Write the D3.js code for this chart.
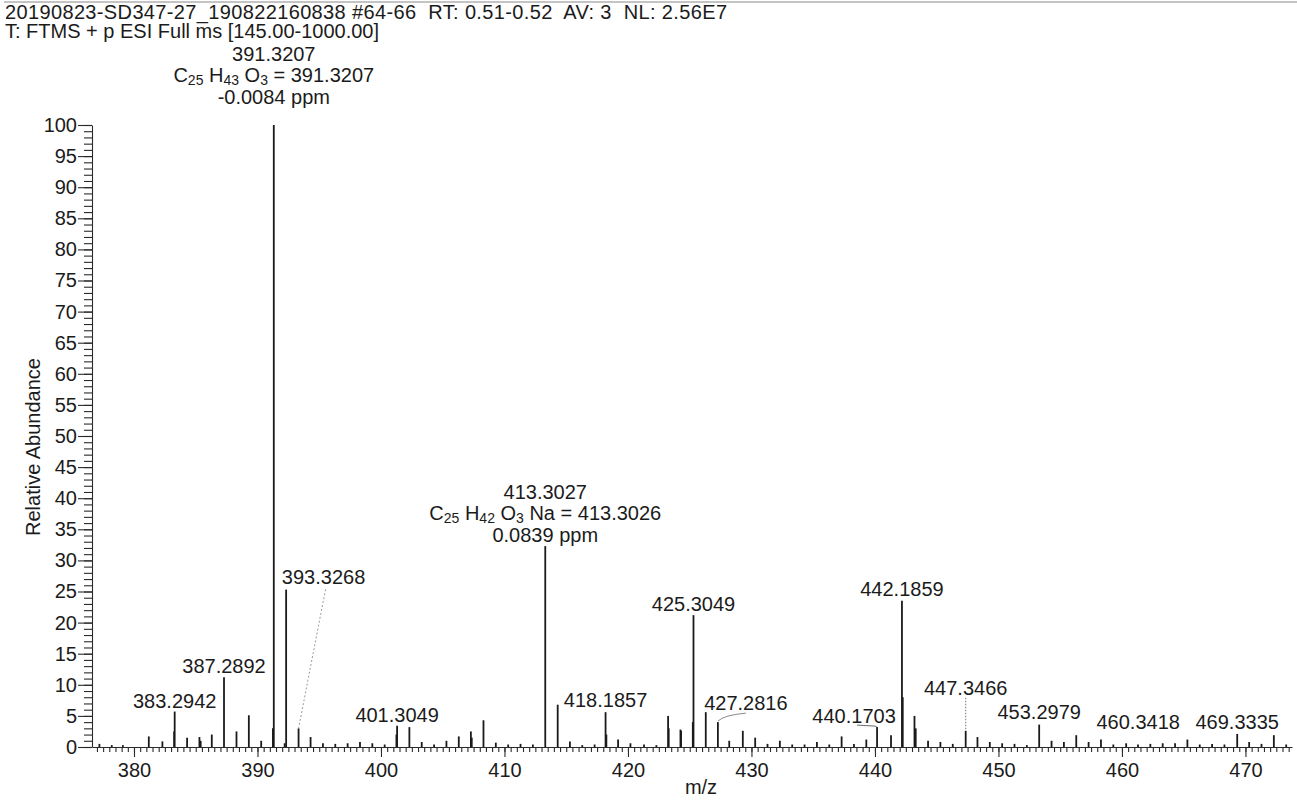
<!DOCTYPE html>
<html>
<head>
<meta charset="utf-8">
<script src="https://cdn.jsdelivr.net/npm/d3@7"></script>
<style>
  body { margin: 0; background: #fff; }
  svg text { font-family: "Liberation Sans", Arial, sans-serif; fill: #1b1b1b; }
</style>
</head>
<body>
<div id="spectrum"></div>
<script>
// header text of the scan
var headerLines = [
  '20190823-SD347-27_190822160838 #64-66  RT: 0.51-0.52  AV: 3  NL: 2.56E7',
  'T: FTMS + p ESI Full ms [145.00-1000.00]'
];

// centroid peaks (m/z, relative abundance %)
var peakMz = [377.2, 378.2, 379.1, 381.2, 382.3, 383.25, 383.2942, 384.3, 385.3, 385.4, 386.3, 387.2892,
  388.3, 389.3, 390.3, 391.25, 391.3207, 392.2, 392.32, 393.3268, 394.3, 395.3, 396.3, 397.3, 398.3, 399.3,
  400.3, 401.25, 401.3049, 402.3, 403.3, 404.3, 405.3, 406.3, 407.28, 407.35, 408.3, 409.3, 410.3, 411.3,
  412.3, 413.3027, 414.31, 415.3, 416.3, 417.3, 418.1857, 418.25, 419.2, 420.2, 421.3, 422.3, 423.25, 423.3,
  424.25, 424.3, 425.25, 425.3049, 426.3, 427.2816, 428.2, 429.3, 430.3, 431.3, 432.3, 433.3, 434.3, 435.3,
  436.3, 437.3, 438.3, 439.3, 440.1703, 441.3, 442.1859, 442.25, 443.2, 443.3, 444.3, 445.3, 446.3, 447.3466,
  448.3, 449.3, 450.3, 451.3, 452.3, 453.2979, 454.3, 455.3, 456.3, 457.3, 458.3, 459.3, 460.3418, 461.3,
  462.3, 463.3, 464.3, 465.3, 466.3, 467.3, 468.3, 469.3335, 470.3, 471.3, 472.3, 473.3];
var peakAbundance = [0.5, 0.3, 0.3, 1.7, 0.9, 2.5, 5.7, 1.5, 1.6, 1.0, 2.0, 11.2,
  2.5, 5.1, 1.0, 3.0, 100, 0.6, 25.3, 3.0, 1.6, 0.6, 0.5, 0.6, 0.8, 0.6,
  0.4, 2.0, 3.4, 3.2, 0.8, 0.4, 1.0, 1.7, 2.5, 1.5, 4.3, 0.7, 0.4, 0.5,
  0.4, 32.3, 6.8, 0.9, 0.3, 0.4, 5.6, 2.0, 1.2, 0.6, 0.4, 0.3, 5.0, 3.0,
  2.8, 2.6, 4.0, 21.2, 5.6, 4.0, 1.0, 2.6, 1.5, 0.5, 1.0, 0.4, 0.4, 0.8,
  0.4, 1.7, 0.5, 1.2, 3.2, 1.9, 23.5, 8.0, 5.0, 3.0, 1.0, 0.8, 0.5, 2.6,
  1.6, 0.8, 0.6, 0.5, 0.3, 3.6, 1.0, 0.8, 1.9, 0.8, 1.2, 0.4, 0.6, 0.4,
  0.5, 0.6, 0.6, 1.2, 0.4, 0.5, 0.4, 2.1, 0.8, 0.5, 1.9, 0.4];

var xTicks = [380, 390, 400, 410, 420, 430, 440, 450, 460, 470];
var yTicks = [0, 5, 10, 15, 20, 25, 30, 35, 40, 45, 50, 55, 60, 65, 70, 75, 80, 85, 90, 95, 100];

// simple peak labels
var labelText = ['383.2942', '387.2892', '393.3268', '401.3049', '418.1857', '425.3049', '427.2816',
  '440.1703', '442.1859', '447.3466', '453.2979', '460.3418', '469.3335'];

// peaks annotated with an elemental composition
var formulaMz = [391.3207, 413.3027];
var formulaParts = [
  [['C', 0], ['25', 1], [' H', 0], ['43', 1], [' O', 0], ['3', 1], [' = 391.3207', 0]],
  [['C', 0], ['25', 1], [' H', 0], ['42', 1], [' O', 0], ['3', 1], [' Na = 413.3026', 0]]
];
var formulaPpm = ['-0.0084 ppm', '0.0839 ppm'];

var width = 1297, height = 800;
var plotLeft = 92, plotRight = 1292, plotTop = 125, plotBottom = 747;

var svg = d3.select('#spectrum').append('svg')
  .attr('width', width)
  .attr('height', height);

var x = d3.scaleLinear().domain([376.6, 473.77]).range([plotLeft, plotRight]);
var y = d3.scaleLinear().domain([0, 100]).range([plotBottom, plotTop]);

// top rule + header
svg.append('line')
  .attr('x1', 4).attr('x2', width).attr('y1', 2).attr('y2', 2)
  .attr('stroke', '#8a8a8a').attr('stroke-width', 1.2);

svg.append('text')
  .attr('x', 5).attr('y', 19)
  .attr('font-size', 20)
  .attr('textLength', 722)
  .attr('lengthAdjust', 'spacing')
  .style('white-space', 'pre')
  .text(headerLines[0]);
svg.append('text')
  .attr('x', 5).attr('y', 38)
  .attr('font-size', 20)
  .text(headerLines[1]);

/* axes */
var yMinor = d3.axisLeft(y).tickValues(d3.range(0, 101, 1)).tickSize(8).tickFormat('');
var yMajor = d3.axisLeft(y).tickValues(yTicks).tickSize(14).tickSizeOuter(0).tickPadding(1);
svg.append('g').attr('transform', `translate(${plotLeft},0)`).call(yMinor)
  .call(g => g.select('.domain').remove());
var gy = svg.append('g').attr('transform', `translate(${plotLeft},0)`).call(yMajor);
gy.selectAll('text').attr('font-size', 20).attr('font-family', '"Liberation Sans", Arial, sans-serif');

var xMinor = d3.axisBottom(x).tickValues(d3.range(377, 473.8, 0.5)).tickSize(5).tickFormat('');
var xMajor = d3.axisBottom(x).tickValues(xTicks).tickSize(10).tickSizeOuter(0).tickPadding(6)
  .tickFormat(d3.format('d'));
svg.append('g').attr('transform', `translate(0,${plotBottom})`).call(xMinor)
  .call(g => g.select('.domain').remove());
var gx = svg.append('g').attr('transform', `translate(0,${plotBottom})`).call(xMajor);
gx.selectAll('text').attr('font-size', 20).attr('font-family', '"Liberation Sans", Arial, sans-serif');

svg.selectAll('.tick line, .domain').attr('stroke', '#2a2a2a').attr('stroke-width', 1.1);

svg.append('text')
  .attr('x', 701).attr('y', 794)
  .attr('text-anchor', 'middle')
  .attr('font-size', 20)
  .text('m/z');

svg.append('text')
  .attr('transform', 'translate(33,447) rotate(-90)')
  .attr('text-anchor', 'middle')
  .attr('dominant-baseline', 'central')
  .attr('font-size', 20)
  .text('Relative Abundance');

/* peaks */
var peaks = peakMz.map((m, i) => ({ mz: m, ab: peakAbundance[i] }));
svg.append('g').selectAll('line')
  .data(peaks).enter()
  .append('line')
  .attr('x1', d => x(d.mz)).attr('x2', d => x(d.mz))
  .attr('y1', y(0)).attr('y2', d => y(d.ab))
  .attr('stroke', '#1a1a1a')
  .attr('stroke-width', 1.8);

function peakAt(mz) {
  return peaks[d3.minIndex(peaks, p => Math.abs(p.mz - mz))];
}

// label placement tweaks (px, relative to peak top)
var labelPos = {
  '393.3268': { dx: 25, dy: -144, leader: 'line' },
  '418.1857': { dy: -5 },
  '427.2816': { dx: 28, dy: -12, leader: 'curve' },
  '440.1703': { dx: -23, dy: -4, leader: 'bracket' },
  '442.1859': { dy: -5 },
  '447.3466': { dy: -36, leader: 'drop' },
  '453.2979': { dy: -6 },
  '460.3418': { dx: 12, dy: -14 },
  '469.3335': { dy: -5 }
};

var labels = svg.append('g');
labelText.forEach(function (t) {
  var p = peakAt(+t);
  var pos = labelPos[t] || {};
  var px = x(p.mz), py = y(p.ab);
  var lx = px + (pos.dx || 0), ly = py + (pos.dy || -4);
  labels.append('text')
    .attr('x', lx).attr('y', ly)
    .attr('text-anchor', 'middle')
    .attr('font-size', 20)
    .text(t);
  if (pos.leader === 'line') {
    labels.append('line')
      .attr('x1', lx + 2).attr('y1', ly + 5).attr('x2', px).attr('y2', py)
      .attr('stroke', '#9a9a9a').attr('stroke-width', 1).attr('stroke-dasharray', '2,2');
  } else if (pos.leader === 'curve') {
    labels.append('path')
      .attr('d', `M${px},${py - 1} Q${px + 6},${ly + 5} ${lx},${ly + 3}`)
      .attr('fill', 'none').attr('stroke', '#8a8a8a').attr('stroke-width', 1);
  } else if (pos.leader === 'bracket') {
    labels.append('path')
      .attr('d', `M${lx + 3},${ly + 2} L${px - 2},${ly + 3} L${px},${py}`)
      .attr('fill', 'none').attr('stroke', '#6a6a6a').attr('stroke-width', 1);
  } else if (pos.leader === 'drop') {
    labels.append('line')
      .attr('x1', px).attr('y1', ly + 3).attr('x2', px).attr('y2', py)
      .attr('stroke', '#8a8a8a').attr('stroke-width', 1.2).attr('stroke-dasharray', '1.5,1.5');
  }
});

/* composition blocks above the two main peaks */
formulaMz.forEach(function (m, i) {
  var p = peakAt(m);
  var cx = x(p.mz);
  var base = i === 0 ? y(p.ab) - 21 : y(p.ab) - 4;
  labels.append('text')
    .attr('x', cx).attr('y', base - 43)
    .attr('text-anchor', 'middle').attr('font-size', 20)
    .text(m.toFixed(4));
  var ft = labels.append('text')
    .attr('x', cx).attr('y', base - 22)
    .attr('text-anchor', 'middle').attr('font-size', 20);
  var shift = 0;
  formulaParts[i].forEach(function (part) {
    var sub = part[1] === 1;
    var dy = sub ? 3 - shift : -shift;
    shift = sub ? 3 : 0;
    ft.append('tspan')
      .attr('dy', dy)
      .attr('font-size', sub ? 14 : 20)
      .style('white-space', 'pre')
      .text(part[0]);
  });
  labels.append('text')
    .attr('x', cx).attr('y', base)
    .attr('text-anchor', 'middle').attr('font-size', 20)
    .text(formulaPpm[i]);
});
</script>
</body>
</html>
